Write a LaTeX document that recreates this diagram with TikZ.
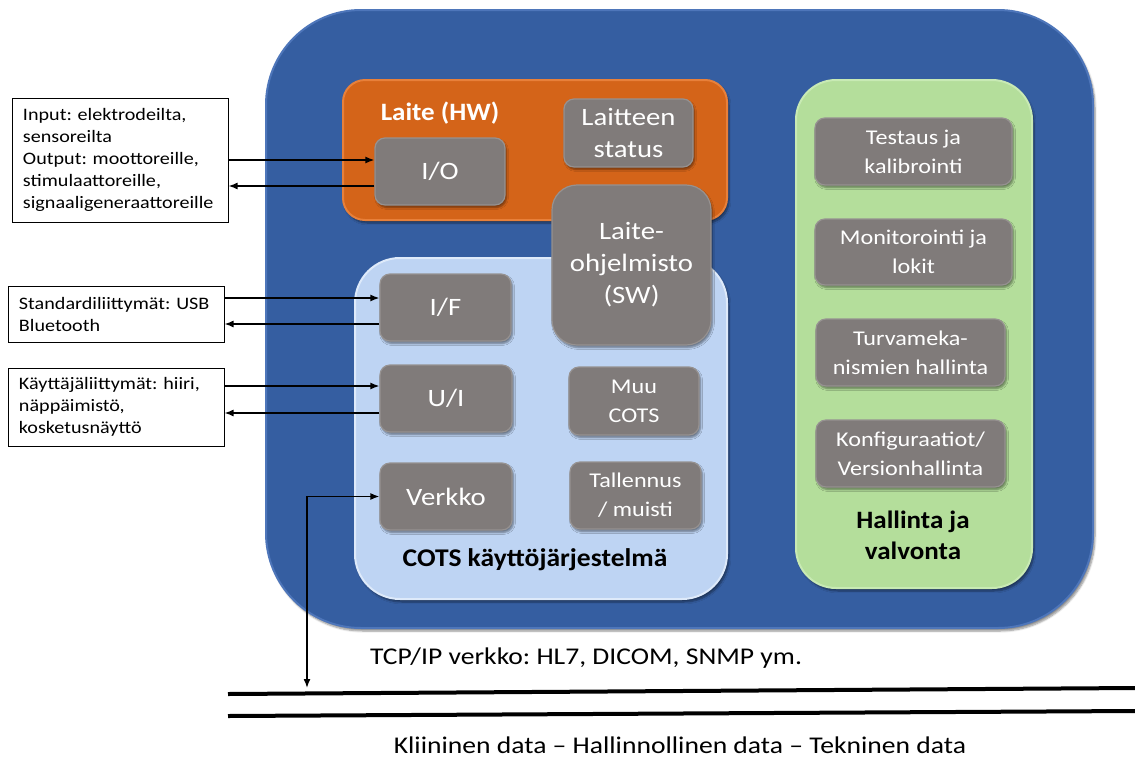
\documentclass[tikz,border=0pt]{standalone}
\usepackage{fontspec}
\setmainfont{Carlito}[FakeStretch=1.15, BoldFeatures={FakeStretch=1.08}]
\frenchspacing
\usetikzlibrary{arrows.meta,shadows.blur}
\definecolor{outerblue}{RGB}{53,94,161}
\definecolor{outerrim}{RGB}{78,118,186}
\definecolor{hworange}{RGB}{212,100,25}
\definecolor{hwrim}{RGB}{232,128,58}
\definecolor{oslight}{RGB}{190,212,243}
\definecolor{osrim}{RGB}{222,234,250}
\definecolor{mgmtgreen}{RGB}{180,222,155}
\definecolor{mgmtrim}{RGB}{200,234,180}
\definecolor{boxgray}{RGB}{128,123,122}
\definecolor{boxrim}{RGB}{150,146,145}
\begin{document}
\begin{tikzpicture}[x=1pt,y=-1pt,
  container/.style={draw=#1, line width=2pt, inner sep=0pt,
    blur shadow={shadow xshift=2pt, shadow yshift=-3pt, shadow opacity=45, shadow blur steps=6}},
  gbox/.style={rounded corners=10pt, fill=boxgray, draw=boxrim, line width=1.2pt,
    text=white, align=center, inner sep=0pt,
    font=\fontsize{25}{32}\selectfont,
    blur shadow={shadow xshift=1.5pt, shadow yshift=-2.5pt, shadow opacity=45, shadow blur steps=5}},
  sbox/.style={gbox, font=\fontsize{21}{29}\selectfont},
  infobox/.style={draw=black, line width=1pt, fill=white, align=left, inner ysep=0pt,
    inner xsep=11pt, text width=194pt, font=\fontsize{17.5}{22}\selectfont},
  arr/.style={line width=1.5pt, -{Latex[length=9pt,width=7pt]}},
  busline/.style={line width=4pt},
  title/.style={font=\bfseries\fontsize{25}{31}\selectfont, align=center, inner sep=0pt}
]
\useasboundingbox (0,0) rectangle (1135,758);

% outer device frame
\node[container=outerrim, fill=outerblue, rounded corners=95pt,
  minimum width=827pt, minimum height=618pt] (device) at (679.5,319) {};

% hardware block
\node[container=hwrim, fill=hworange, rounded corners=22pt,
  minimum width=384pt, minimum height=140pt] (hw) at (535,150) {};
\node[title, text=white] (hwlabel) at (440,113) {Laite (HW)};

% COTS operating system block
\node[container=osrim, fill=oslight, rounded corners=45pt,
  minimum width=372pt, minimum height=341pt] (os) at (541,428.5) {};
\node[title, font=\bfseries\fontsize{25.5}{31}\selectfont] (oslabel) at (535,560) {COTS käyttöjärjestelmä};

% management block
\node[container=mgmtrim, fill=mgmtgreen, rounded corners=40pt,
  minimum width=236pt, minimum height=508pt] (mgmt) at (914,334) {};
\node[title] (mgmtlabel) at (913,535) {Hallinta ja\\valvonta};

% component boxes
\node[gbox, minimum width=130pt, minimum height=67pt] (io) at (440,171.5) {I/O};
\node[gbox, minimum width=129pt, minimum height=68pt] (status) at (628.5,133) {Laitteen\\status};
\node[gbox, minimum width=131pt, minimum height=67pt] (if) at (445.5,307.5) {I/F};
\node[gbox, minimum width=132pt, minimum height=67pt] (ui) at (446,398.5) {U/I};
\node[gbox, minimum width=132pt, minimum height=67pt] (net) at (446,496.5) {Verkko};
\node[sbox, minimum width=130pt, minimum height=68pt] (muu) at (634,401) {Muu\\COTS};
\node[sbox, minimum width=131pt, minimum height=67pt] (store) at (635.5,495.5) {Tallennus\\/ muisti};
\node[gbox, rounded corners=25pt, minimum width=159pt, minimum height=160pt] (sw) at (631.5,265) {Laite-\\ohjelmisto\\(SW)};

\node[sbox, minimum width=197pt, minimum height=67pt] (test) at (913.5,151.5) {Testaus ja\\kalibrointi};
\node[sbox, minimum width=197pt, minimum height=66pt] (mon) at (913.5,252) {Monitorointi ja\\lokit};
\node[sbox, minimum width=189pt, minimum height=67pt] (safe) at (910.5,352.5) {Turvameka-\\nismien hallinta};
\node[sbox, minimum width=189pt, minimum height=67pt] (conf) at (910.5,453.5) {Konfiguraatiot/\\Versionhallinta};

% external interfaces
\node[infobox, minimum height=124pt] (ext1) at (120,160)
  {Input: elektrodeilta,\\sensoreilta\\Output: moottoreille,\\stimulaattoreille,\\signaaligeneraattoreille};
\node[infobox, minimum height=56pt] (ext2) at (116,314)
  {\mbox{Standardiliittymät: USB}\\Bluetooth};
\node[infobox, minimum height=78pt] (ext3) at (116,407)
  {\mbox{Käyttäjäliittymät: hiiri,}\\näppäimistö,\\kosketusnäyttö};

\draw[arr] (ext1.east |- 0,160) -- (io.west |- 0,160);
\draw[arr] (io.west |- 0,186) -- (ext1.east |- 0,186);
\draw[arr] (ext2.east |- 0,298) -- (if.west |- 0,298);
\draw[arr] (if.west |- 0,324) -- (ext2.east |- 0,324);
\draw[arr] (ext3.east |- 0,386) -- (ui.west |- 0,386);
\draw[arr] (ui.west |- 0,413) -- (ext3.east |- 0,413);

% network bus
\coordinate (tap) at (307,688);
\coordinate (busAw) at (228,694);
\coordinate (busAe) at (1135,688);
\coordinate (busBw) at (228,716);
\coordinate (busBe) at (1135,711);
\draw[line width=1.5pt, {Latex[length=9pt,width=7pt]}-{Latex[length=9pt,width=7pt]}] (net.west) -| (tap);
\draw[busline] (busAw) -- (busAe);
\draw[busline] (busBw) -- (busBe);

\node[font=\fontsize{24}{29}\selectfont, inner sep=0pt] (buslabel) at (586,658) {TCP/IP verkko: HL7, DICOM, SNMP ym.};
\node[font=\fontsize{24}{29}\selectfont, inner sep=0pt] (datalabel) at (680,745) {Kliininen data – Hallinnollinen data – Tekninen data};
\end{tikzpicture}
\end{document}
